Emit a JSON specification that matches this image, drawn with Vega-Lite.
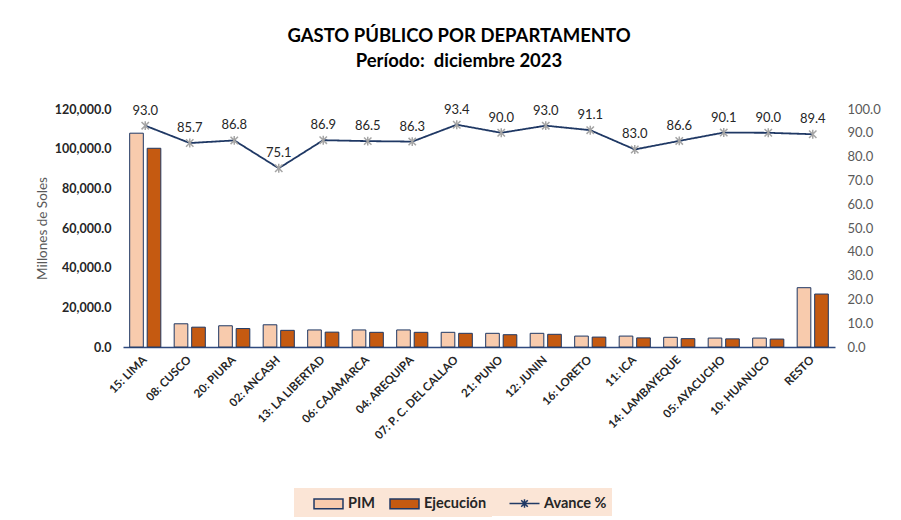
{
  "$schema": "https://vega.github.io/schema/vega-lite/v6.json",
  "autosize": {"type": "none"},
  "width": 712,
  "height": 238,
  "padding": {"left": 123, "top": 109, "right": 66, "bottom": 173},
  "background": "white",
  "config": {
    "font": "Lato",
    "view": {"stroke": null},
    "axis": {"grid": false, "ticks": false}
  },
  "title": {
    "text": ["GASTO PÚBLICO POR DEPARTAMENTO", "Período:\u00a0 diciembre 2023"],
    "fontSize": 18.5,
    "fontWeight": "bold",
    "color": "#000000",
    "anchor": "middle",
    "dx": -20,
    "offset": 33,
    "lineHeight": 25
  },
  "data": {
    "values": [
      {"dep": "15: LIMA", "PIM": 107800, "Ejecución": 100200, "avance": 93.0},
      {"dep": "08: CUSCO", "PIM": 11700, "Ejecución": 10000, "avance": 85.7},
      {"dep": "20: PIURA", "PIM": 10700, "Ejecución": 9300, "avance": 86.8},
      {"dep": "02: ANCASH", "PIM": 11200, "Ejecución": 8400, "avance": 75.1},
      {"dep": "13: LA LIBERTAD", "PIM": 8600, "Ejecución": 7500, "avance": 86.9},
      {"dep": "06: CAJAMARCA", "PIM": 8600, "Ejecución": 7400, "avance": 86.5},
      {"dep": "04: AREQUIPA", "PIM": 8600, "Ejecución": 7400, "avance": 86.3},
      {"dep": "07: P. C. DEL CALLAO", "PIM": 7400, "Ejecución": 6900, "avance": 93.4},
      {"dep": "21: PUNO", "PIM": 6900, "Ejecución": 6200, "avance": 90.0},
      {"dep": "12: JUNIN", "PIM": 6900, "Ejecución": 6400, "avance": 93.0},
      {"dep": "16: LORETO", "PIM": 5500, "Ejecución": 5000, "avance": 91.1},
      {"dep": "11: ICA", "PIM": 5500, "Ejecución": 4600, "avance": 83.0},
      {"dep": "14: LAMBAYEQUE", "PIM": 4900, "Ejecución": 4200, "avance": 86.6},
      {"dep": "05: AYACUCHO", "PIM": 4500, "Ejecución": 4100, "avance": 90.1},
      {"dep": "10: HUANUCO", "PIM": 4500, "Ejecución": 4000, "avance": 90.0},
      {"dep": "RESTO", "PIM": 29900, "Ejecución": 26700, "avance": 89.4}
    ]
  },
  "encoding": {
    "x": {
      "field": "dep",
      "type": "nominal",
      "sort": null,
      "scale": {"paddingInner": 0.3, "paddingOuter": 0.15},
      "axis": {
        "title": null,
        "labelAngle": -45,
        "labelAlign": "right",
        "labelBaseline": "middle",
        "labelFontWeight": "bold",
        "labelFontSize": 11.5,
        "labelColor": "#262626",
        "labelPadding": 11,
        "domainColor": "#2F4A7F",
        "domainWidth": 1.5
      }
    }
  },
  "layer": [
    {
      "transform": [{"fold": ["PIM", "Ejecución"], "as": ["serie", "monto"]}],
      "mark": {"type": "bar", "stroke": "#1F3864", "strokeWidth": 1},
      "encoding": {
        "xOffset": {"field": "serie", "type": "nominal", "sort": ["PIM", "Ejecución"], "scale": {"paddingInner": 0.22}},
        "y": {
          "field": "monto",
          "type": "quantitative",
          "scale": {"domain": [0, 120000]},
          "axis": {
            "title": "Millones de Soles",
            "titleFontWeight": "normal",
            "titleFontSize": 13.5,
            "titleColor": "#595959",
            "titlePadding": 5,
            "values": [0, 20000, 40000, 60000, 80000, 100000, 120000],
            "format": ",.1f",
            "labelFontWeight": "bold",
            "labelFontSize": 12.5,
            "labelColor": "#262626",
            "labelPadding": 12,
            "domain": false
          }
        },
        "color": {
          "field": "serie",
          "type": "nominal",
          "sort": ["PIM", "Ejecución"],
          "scale": {"domain": ["PIM", "Ejecución"], "range": ["#F8CBAD", "#C55A11"]},
          "legend": {
            "title": null,
            "orient": "none",
            "legendX": 171,
            "legendY": 379,
            "direction": "horizontal",
            "fillColor": "#FBE5D6",
            "padding": 5,
            "labelFontSize": 14.5,
            "labelFontWeight": "bold",
            "labelColor": "#262626",
            "labelLimit": 300,
            "symbolType": "M-1.5,-0.5H1.5V0.5H-1.5Z",
            "symbolSize": 373,
            "symbolStrokeColor": "#1F3864",
            "symbolStrokeWidth": 1.5,
            "symbolOffset": 19,
            "labelOffset": 9,
            "columnPadding": 0
          }
        }
      }
    },
    {
      "encoding": {
        "y": {
          "field": "avance",
          "type": "quantitative",
          "scale": {"domain": [0, 100]},
          "axis": {
            "orient": "right",
            "title": null,
            "values": [0, 10, 20, 30, 40, 50, 60, 70, 80, 90, 100],
            "format": ".1f",
            "labelFontSize": 13,
            "labelColor": "#595959",
            "labelPadding": 12,
            "domain": false
          }
        }
      },
      "layer": [
        {
          "mark": {"type": "line", "strokeWidth": 1.8, "color": "#1F3864"},
          "encoding": {
            "strokeDash": {
              "datum": "Avance %",
              "scale": {"domain": ["Avance %"], "range": [[1, 0]]},
              "legend": {
                "title": null,
                "orient": "none",
                "legendX": 365,
                "legendY": 379,
                "direction": "horizontal",
                "fillColor": "#FBE5D6",
                "padding": 5,
                "labelFontSize": 14.5,
                "labelFontWeight": "bold",
                "labelColor": "#262626",
                "labelLimit": 300,
                "symbolType": "M-1.6,0H1.6M-0.35,-0.35L0.35,0.35M-0.35,0.35L0.35,-0.35M0,-0.45V0.45",
                "symbolSize": 352,
                "symbolStrokeColor": "#1F3864",
                "symbolFillColor": "transparent",
                "symbolStrokeWidth": 1.5,
                "symbolOffset": 21,
                "labelOffset": 9
              }
            }
          }
        },
        {
          "mark": {
            "type": "point",
            "shape": "M-1,-1L1,1M-1,1L1,-1M0,-1.2V1.2",
            "filled": false,
            "stroke": "#A5A5A5",
            "strokeWidth": 1.5,
            "size": 55,
            "opacity": 1
          },
          "encoding": {}
        },
        {
          "mark": {"type": "text", "baseline": "bottom", "dy": -8, "fontSize": 13, "color": "#262626"},
          "encoding": {"text": {"field": "avance", "type": "quantitative", "format": ".1f"}}
        }
      ]
    }
  ],
  "resolve": {"scale": {"y": "independent"}}
}
